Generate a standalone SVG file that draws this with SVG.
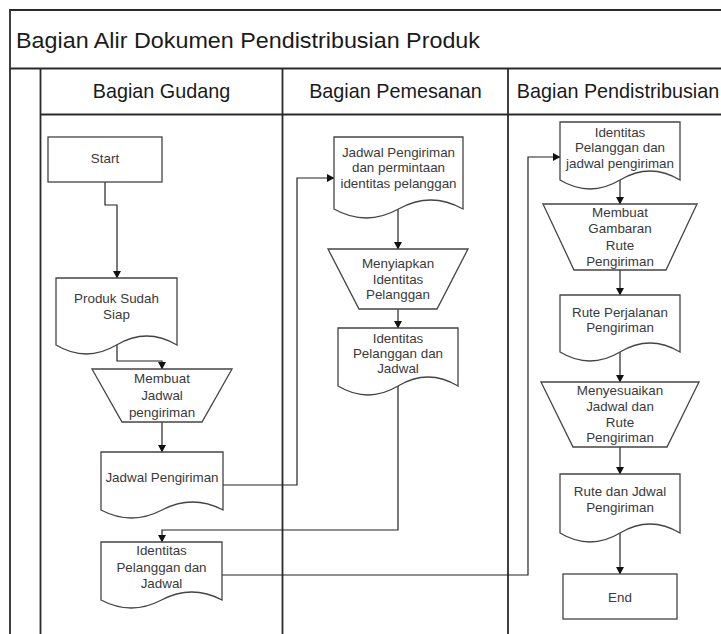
<svg xmlns="http://www.w3.org/2000/svg" width="721" height="634" viewBox="0 0 721 634">
<style>
.frame{stroke:#2a2a2a;stroke-width:1.8;fill:none}
.shape{fill:#fff;stroke:#444;stroke-width:1.3}
.conn{fill:none;stroke:#222;stroke-width:1.2}
.t{font-family:"Liberation Sans",Arial,sans-serif;font-size:13.4px;fill:#3a3a3a;text-anchor:middle}
.h{font-family:"Liberation Sans",Arial,sans-serif;font-size:19.8px;fill:#1a1a1a;text-anchor:middle}
.title{font-family:"Liberation Sans",Arial,sans-serif;font-size:22.5px;fill:#1a1a1a}
</style>
<defs>
<marker id="arr" markerUnits="userSpaceOnUse" markerWidth="8" markerHeight="8" refX="7" refY="4" orient="auto" overflow="visible">
<path d="M0,0 L7.5,4 L0,8 Z" fill="#111"/>
</marker>
</defs>
<rect width="721" height="634" fill="#fff"/>
<g id="frame">
<path class="frame" d="M10,634 V10 H721 M10,68.5 H721 M40.5,114.5 H721 M40.5,68.5 V634 M282.5,68.5 V634 M508,68.5 V634"/>
<text class="title" x="16" y="47.5" textLength="464" lengthAdjust="spacingAndGlyphs">Bagian Alir Dokumen Pendistribusian Produk</text>
<text class="h" x="161.5" y="98">Bagian Gudang</text>
<text class="h" x="395.5" y="98">Bagian Pemesanan</text>
<text class="h" x="618" y="98">Bagian Pendistribusian</text>
</g>
<g id="connectors">
<path class="conn" marker-end="url(#arr)" d="M105,182 V205 H117 V278"/>
<path class="conn" marker-end="url(#arr)" d="M117,345 V361 H162 V369"/>
<path class="conn" marker-end="url(#arr)" d="M162,422 V452"/>
<path class="conn" marker-end="url(#arr)" d="M223,485 H297 V178 H334"/>
<path class="conn" marker-end="url(#arr)" d="M398,209 V249"/>
<path class="conn" marker-end="url(#arr)" d="M398,309 V328"/>
<path class="conn" marker-end="url(#arr)" d="M398,386 V530 H162 V542"/>
<path class="conn" marker-end="url(#arr)" d="M222,575 H528 V157 H560"/>
<path class="conn" marker-end="url(#arr)" d="M620,180 V204"/>
<path class="conn" marker-end="url(#arr)" d="M620,270 V295"/>
<path class="conn" marker-end="url(#arr)" d="M620,352 V382"/>
<path class="conn" marker-end="url(#arr)" d="M620,447 V474"/>
<path class="conn" marker-end="url(#arr)" d="M620,533 V574"/>
</g>
<g id="start">
<rect class="shape" x="48" y="137" width="114" height="45"/>
<text class="t" x="105" y="163">Start</text>
</g>
<g id="produk-siap">
<path class="shape" d="M56,278 H177 V345 Q146.75,327 116.5,345 Q86.25,363 56,345 Z"/>
<text class="t" x="116.5" y="303">Produk Sudah</text>
<text class="t" x="116.5" y="319">Siap</text>
</g>
<g id="membuat-jadwal">
<path class="shape" d="M92,369 H232 L202,422 H122 Z"/>
<text class="t" x="162" y="383">Membuat</text>
<text class="t" x="162" y="400">Jadwal</text>
<text class="t" x="162" y="417">pengiriman</text>
</g>
<g id="jadwal-pengiriman">
<path class="shape" d="M101,452 H223 V510 Q192.5,494 162,510 Q131.5,526 101,510 Z"/>
<text class="t" x="162" y="482">Jadwal Pengiriman</text>
</g>
<g id="identitas-gudang">
<path class="shape" d="M101,542 H222 V600 Q191.75,584 161.5,600 Q131.25,616 101,600 Z"/>
<text class="t" x="161.5" y="555">Identitas</text>
<text class="t" x="161.5" y="572">Pelanggan dan</text>
<text class="t" x="161.5" y="588">Jadwal</text>
</g>
<g id="jadwal-permintaan">
<path class="shape" d="M334,137 H463 V209 Q430.75,191 398.5,209 Q366.25,227 334,209 Z"/>
<text class="t" x="398.5" y="157">Jadwal Pengiriman</text>
<text class="t" x="398.5" y="172">dan permintaan</text>
<text class="t" x="398.5" y="188">identitas pelanggan</text>
</g>
<g id="menyiapkan">
<path class="shape" d="M328,249 H468 L437,309 H359 Z"/>
<text class="t" x="398" y="268">Menyiapkan</text>
<text class="t" x="398" y="284">Identitas</text>
<text class="t" x="398" y="299">Pelanggan</text>
</g>
<g id="identitas-pemesanan">
<path class="shape" d="M338,328 H458 V386 Q428,368 398,386 Q368,404 338,386 Z"/>
<text class="t" x="398" y="343">Identitas</text>
<text class="t" x="398" y="358">Pelanggan dan</text>
<text class="t" x="398" y="373">Jadwal</text>
</g>
<g id="identitas-jadwal">
<path class="shape" d="M560,122 H680 V180 Q650,162 620,180 Q590,198 560,180 Z"/>
<text class="t" x="620" y="137">Identitas</text>
<text class="t" x="620" y="152">Pelanggan dan</text>
<text class="t" x="620" y="168">jadwal pengiriman</text>
</g>
<g id="membuat-gambaran">
<path class="shape" d="M543,204 H697 L666,270 H574 Z"/>
<text class="t" x="620" y="217">Membuat</text>
<text class="t" x="620" y="233">Gambaran</text>
<text class="t" x="620" y="250">Rute</text>
<text class="t" x="620" y="266">Pengiriman</text>
</g>
<g id="rute-perjalanan">
<path class="shape" d="M560,295 H680 V352 Q650,334 620,352 Q590,370 560,352 Z"/>
<text class="t" x="620" y="317">Rute Perjalanan</text>
<text class="t" x="620" y="332">Pengiriman</text>
</g>
<g id="menyesuaikan">
<path class="shape" d="M541,382 H699 L667,447 H573 Z"/>
<text class="t" x="620" y="395">Menyesuaikan</text>
<text class="t" x="620" y="411">Jadwal dan</text>
<text class="t" x="620" y="427">Rute</text>
<text class="t" x="620" y="442">Pengiriman</text>
</g>
<g id="rute-jdwal">
<path class="shape" d="M560,474 H680 V533 Q650,515 620,533 Q590,551 560,533 Z"/>
<text class="t" x="620" y="496">Rute dan Jdwal</text>
<text class="t" x="620" y="512">Pengiriman</text>
</g>
<g id="end">
<rect class="shape" x="563" y="574" width="114" height="45"/>
<text class="t" x="620" y="602">End</text>
</g>
</svg>
